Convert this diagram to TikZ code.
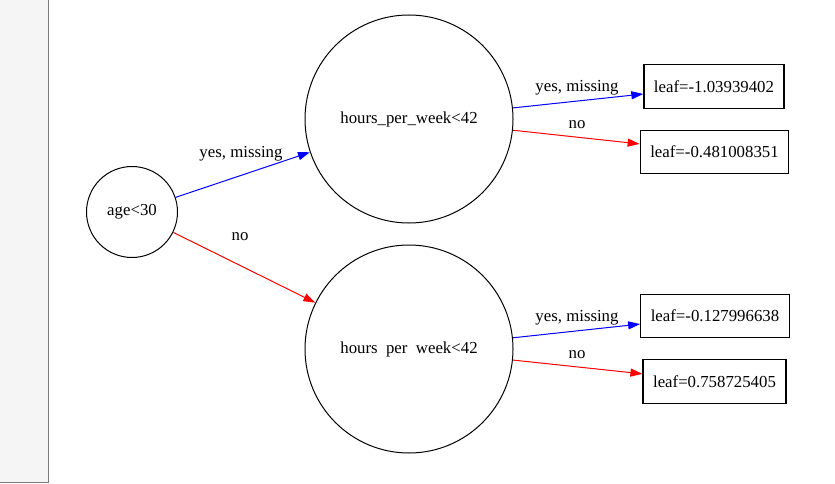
\documentclass[tikz,border=0pt]{standalone}
\usepackage{fontspec}
\setmainfont{Liberation Serif}
\usetikzlibrary{arrows.meta}
\definecolor{stripgray}{HTML}{F5F5F5}
\definecolor{stripline}{HTML}{7A7A7A}
\definecolor{yesblue}{HTML}{0000FF}
\definecolor{nored}{HTML}{FF0000}
\begin{document}
\begin{tikzpicture}[x=1pt,y=-1pt,
  every node/.style={font=\fontsize{16.8}{20}\selectfont},
  splitnode/.style={circle,draw=black,line width=1pt,inner sep=0pt},
  leafbox/.style={rectangle,draw=black,line width=1.3pt,inner xsep=10pt,minimum height=43.5pt},
  elabel/.style={inner sep=0pt},
  yesedge/.style={draw=yesblue,line width=1pt,-{Triangle[length=12pt,width=8pt]}},
  noedge/.style={draw=nored,line width=1pt,-{Triangle[length=12pt,width=8pt]}}]
\useasboundingbox (0,0) rectangle (835,484);
\fill[white] (0,0) rectangle (835,484);
\fill[stripgray] (0,0) rectangle (48,482);
\draw[stripline,line width=1pt] (48,0) -- (48,482) -- (0,482);

\node[splitnode,minimum size=91pt] (age) at (132,212) {age<30};
\node[splitnode,minimum size=208pt] (h1) at (409,119) {hours\_per\_week<42};
\node[splitnode,minimum size=208pt] (h2) at (409,349) {{\spaceskip=8.4pt hours per week<42}};

\node[leafbox] (l1) at (714,86.5) {leaf=-1.03939402};
\node[leafbox] (l2) at (714.5,152) {leaf=-0.481008351};
\node[leafbox] (l3) at (715,316) {leaf=-0.127996638};
\node[leafbox] (l4) at (714.5,381.5) {leaf=0.758725405};

\draw[yesedge] (age) -- (h1);
\draw[noedge] (age) -- (h2);
\draw[yesedge] (h1) -- (l1);
\draw[noedge] (h1) -- (l2);
\draw[yesedge] (h2) -- (l3);
\draw[noedge] (h2) -- (l4);

\node[elabel] (t1) at (241,154) {yes, missing};
\node[elabel] (t2) at (240,237) {no};
\node[elabel] (t3) at (577,88) {yes, missing};
\node[elabel] (t4) at (577,125) {no};
\node[elabel] (t5) at (577,318) {yes, missing};
\node[elabel] (t6) at (577,355) {no};
\end{tikzpicture}
\end{document}
